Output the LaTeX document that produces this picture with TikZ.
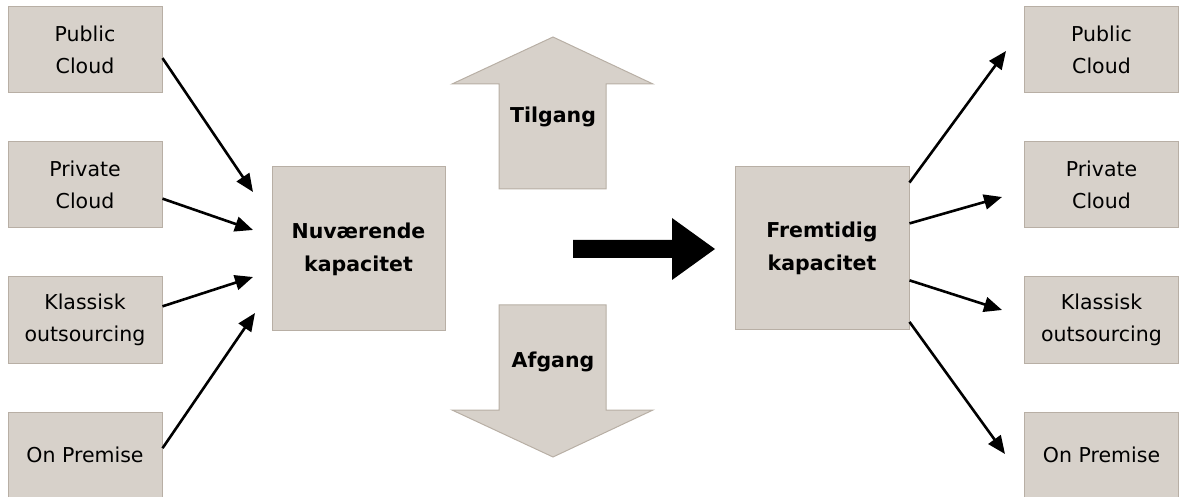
\documentclass[tikz,border=0pt]{standalone}
\usepackage{fontspec}
\setmainfont{DejaVu Sans}
\usetikzlibrary{arrows.meta}
\definecolor{boxfill}{RGB}{215,209,202}
\definecolor{boxline}{RGB}{184,175,165}

\begin{document}
\begin{tikzpicture}
[every node/.style={inner sep=0pt, align=center, font=\fontsize{20.5pt}{32pt}\selectfont},
 box/.style={rectangle, minimum width=154pt, minimum height=86pt, fill=boxfill, draw=boxline, line width=1pt},
 bigbox/.style={rectangle, minimum width=173pt, minimum height=164pt, fill=boxfill, draw=boxline, line width=1pt, font=\fontsize{20.5pt}{33pt}\selectfont\bfseries},
 blockarrow/.style={fill=boxfill, draw=boxline, line width=1pt, line join=miter},
 link/.style={line width=2.6pt, -{Triangle[length=18pt, width=15pt]}}]
\useasboundingbox (0pt, 0pt) rectangle (1179pt, -497pt);
\node (lpub) [box] at (85.0pt, -50.0pt) {Public\\Cloud};
\node (lpriv) [box] at (85.0pt, -185.0pt) {Private\\Cloud};
\node (lklas) [box] at (85.0pt, -320.0pt) {Klassisk\\outsourcing};
\node (lonp) [box] at (85.0pt, -455.0pt) {On Premise};
\node (nuv) [bigbox] at (358.5pt, -249.0pt) {Nuværende\\kapacitet};
\node (fre) [bigbox, minimum width=174pt, minimum height=163pt] at (822.0pt, -248.5pt) {Fremtidig\\kapacitet};
\node (rpub) [box] at (1101.5pt, -50.0pt) {Public\\Cloud};
\node (rpriv) [box] at (1101.5pt, -185.0pt) {Private\\Cloud};
\node (rklas) [box] at (1101.5pt, -320.0pt) {Klassisk\\outsourcing};
\node (ronp) [box] at (1101.5pt, -455.0pt) {On Premise};
\draw [blockarrow] (499pt, -189pt) -- (499pt, -84pt) -- (452pt, -84pt) -- (553pt, -37pt) -- (653pt, -84pt) -- (606pt, -84pt) -- (606pt, -189pt) -- cycle;
\draw [blockarrow] (499pt, -305pt) -- (499pt, -410pt) -- (452pt, -410pt) -- (553pt, -457pt) -- (653pt, -410pt) -- (606pt, -410pt) -- (606pt, -305pt) -- cycle;
\node (tilgang) at (553.0pt, -117.0pt) {\bfseries Tilgang};
\node (afgang) at (553.0pt, -362.0pt) {\bfseries Afgang};
\fill [black] (573pt, -240pt) -- (672pt, -240pt) -- (672pt, -218pt) -- (715pt, -249pt) -- (672pt, -280pt) -- (672pt, -258pt) -- (573pt, -258pt) -- cycle;
\coordinate (in1) at (253.0pt, -192.0pt);
\coordinate (in2) at (253.0pt, -230.0pt);
\coordinate (in3) at (253.0pt, -277.0pt);
\coordinate (in4) at (255.0pt, -313.0pt);
\coordinate (out1) at (1006.0pt, -51.0pt);
\coordinate (out2) at (1002.0pt, -197.0pt);
\coordinate (out3) at (1002.0pt, -310.0pt);
\coordinate (out4) at (1005.0pt, -454.0pt);
\draw [link] (lpub.-6) to (in1);
\draw [link] (lpriv.-10) to (in2);
\draw [link] (lklas.10) to (in3);
\draw [link] (lonp.5) to (in4);
\draw [link] (fre.37) to (out1);
\draw [link] (fre.16) to (out2);
\draw [link] (fre.-20) to (out3);
\draw [link] (fre.-40) to (out4);
\end{tikzpicture}
\end{document}
